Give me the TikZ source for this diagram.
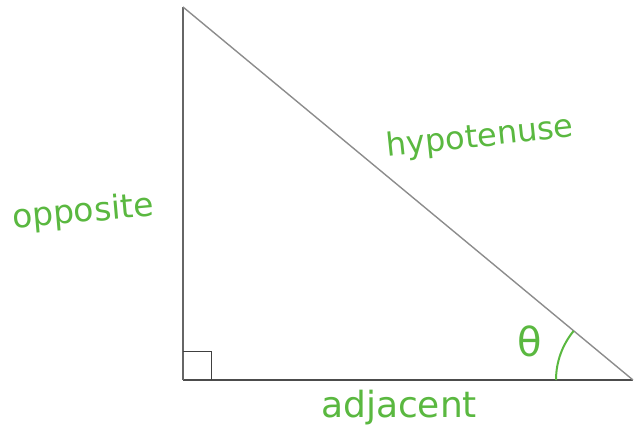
\documentclass[tikz,border=0pt]{standalone}
\usepackage{fontspec}
\setmainfont{DejaVu Sans}
\usepackage{tikz}
\usetikzlibrary{calc,positioning}
\definecolor{handgreen}{HTML}{5AB840}

\begin{document}
\begin{tikzpicture}[x=1pt, y=1pt]
\useasboundingbox (0,0) rectangle (637,428);
\coordinate (a) at (183,48);
\coordinate (b) at (633,48);
\coordinate (c) at (183,421);
\draw[line width=2.2pt, black!70] (a) -- (b);
\draw[line width=1.4pt, black!60] (a) -- (c);
\draw[line width=1.4pt, black!45] (c) -- (b);
\draw[line width=1pt, black!75] ($(a)+(0,28)$) -- ($(a)+(28,28)$) -- ($(a)+(28,0)$);
\draw[line width=2pt, handgreen] ($(b)+(-77,0)$) arc[start angle=180, end angle=140.4, radius=77];
\node[text=handgreen, font=\fontsize{33}{36}\selectfont, rotate=5] (opp) at (83,215) {opposite};
\node[text=handgreen, font=\fontsize{32}{36}\selectfont, rotate=6] (hyp) at (480,290) {hypotenuse};
\node[text=handgreen, font=\fontsize{36}{40}\selectfont] (adj) at (399,20) {adjacent};
\node[text=handgreen, font=\fontsize{40}{44}\selectfont] (theta) at (530,87) {θ};
\end{tikzpicture}
\end{document}
